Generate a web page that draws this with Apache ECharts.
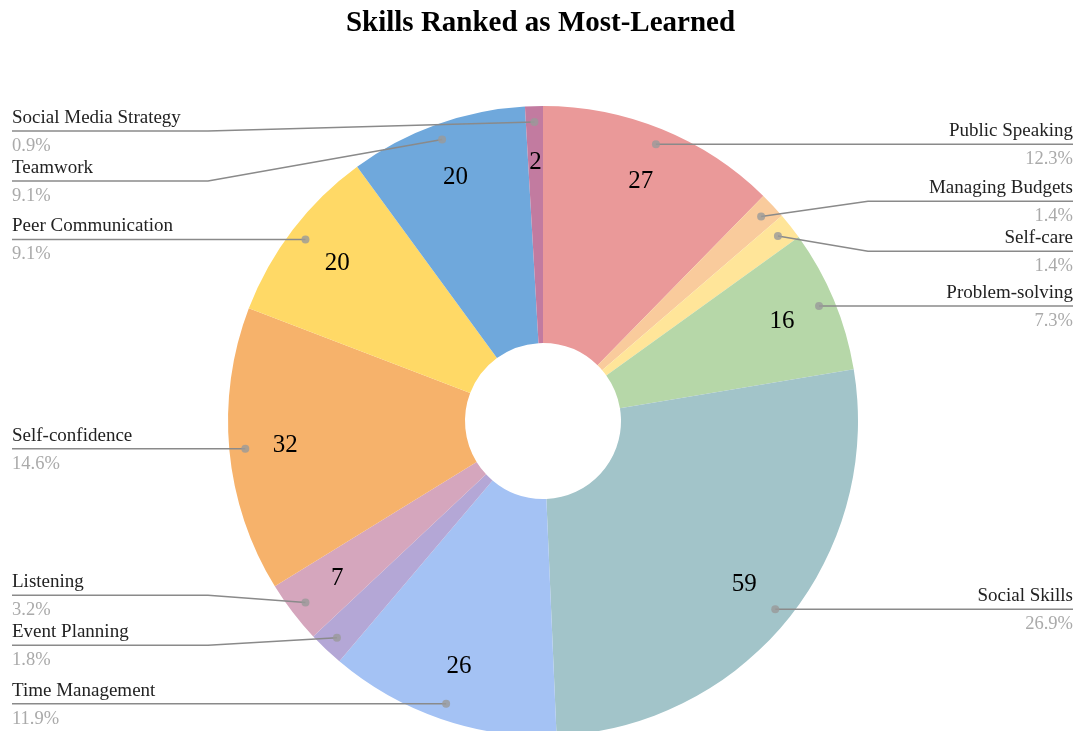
<!DOCTYPE html>
<html>
<head>
<meta charset="utf-8">
<script src="https://cdn.jsdelivr.net/npm/echarts@6/dist/echarts.min.js"></script>
<style>
  html, body { margin: 0; padding: 0; background: #fff; }
  #chart { width: 1081px; height: 731px; }
</style>
</head>
<body>
<div id="chart"></div>
<script>
// data
const categories = ['Public Speaking', 'Managing Budgets', 'Self-care', 'Problem-solving', 'Social Skills',
  'Time Management', 'Event Planning', 'Listening', 'Self-confidence', 'Peer Communication',
  'Teamwork', 'Social Media Strategy'];
const counts = [27, 3, 3, 16, 59, 26, 4, 7, 32, 20, 20, 2];
const colors = ['#ea9999', '#f9cb9c', '#ffe599', '#b6d7a8', '#a2c4c9', '#a4c2f4',
  '#b4a7d6', '#d5a6bd', '#f6b26b', '#ffd966', '#6fa8dc', '#c27ba0'];
// slices whose value is not printed inside
const hiddenValueLabels = ['Managing Budgets', 'Self-care', 'Event Planning'];

// layout (pixels)
const CX = 543, CY = 421, R = 315, R0 = 78;
const DOT_R = 299;
const EDGE_L = 12, EDGE_R = 1073;
const ELBOW_L = 208, ELBOW_R = 868;
const MIN_GAP = 50;
const FONT = '"Liberation Serif", "Times New Roman", serif';

const total = counts.reduce((a, b) => a + b, 0);

// anchor points of the label lines (midangle of each slice)
let acc = 0;
const anchors = counts.map((v, i) => {
  const midVal = acc + v / 2;
  acc += v;
  const a = midVal / total * Math.PI * 2;
  const x = CX + DOT_R * Math.sin(a);
  const y = CY - DOT_R * Math.cos(a);
  return { i: i, midVal: midVal, ax: x, ay: y, ly: y, right: x >= CX };
});

// push labels apart on each side
function spread(items, top) {
  items.sort((a, b) => a.ly - b.ly);
  for (let k = 0; k < 60; k++) {
    for (let j = 1; j < items.length; j++) {
      const d = items[j].ly - items[j - 1].ly;
      if (d < MIN_GAP) {
        const s = (MIN_GAP - d) / 2;
        items[j - 1].ly -= s;
        items[j].ly += s;
      }
    }
    items.forEach(it => { if (it.ly < top) it.ly = top; });
  }
}
spread(anchors.filter(a => a.right), CY - R + 25);
spread(anchors.filter(a => !a.right), CY - R + 25);

const pieData = categories.map((name, i) => ({ name: name, value: counts[i] }));

const myChart = echarts.init(document.getElementById('chart'));
myChart.setOption({
  animation: false,
  title: {
    text: 'Skills Ranked as Most-Learned',
    left: 'center',
    top: 4,
    textStyle: { fontFamily: FONT, fontSize: 29, fontWeight: 'bold', color: '#000' }
  },
  polar: { center: [CX, CY], radius: R },
  angleAxis: { type: 'value', min: 0, max: total, startAngle: 90, clockwise: true, show: false },
  radiusAxis: { type: 'value', min: 0, max: R, show: false },
  series: [
    {
      // slices
      type: 'pie',
      center: [CX, CY],
      radius: [R0, R],
      startAngle: 90,
      clockwise: true,
      silent: true,
      z: 2,
      data: categories.map((name, i) => ({ name: name, value: counts[i], itemStyle: { color: colors[i] } })),
      label: { show: false },
      labelLine: { show: false }
    },
    {
      // value labels inside the slices
      type: 'pie',
      center: [CX, CY],
      radius: [212, 300],
      startAngle: 90,
      clockwise: true,
      silent: true,
      z: 3,
      itemStyle: { color: 'rgba(0,0,0,0)' },
      data: categories.map((name, i) => ({
        name: name,
        value: counts[i],
        label: { show: hiddenValueLabels.indexOf(name) < 0 }
      })),
      label: {
        position: 'inside',
        formatter: '{c}',
        fontFamily: FONT,
        fontSize: 25,
        color: '#000'
      },
      labelLine: { show: false }
    },
    {
      // names + percentages at the chart edges
      type: 'pie',
      center: [CX, CY],
      radius: [R0, R],
      startAngle: 90,
      clockwise: true,
      avoidLabelOverlap: false,
      silent: true,
      z: 4,
      itemStyle: { color: 'rgba(0,0,0,0)' },
      data: pieData,
      label: {
        show: true,
        position: 'outside',
        fontFamily: FONT,
        formatter: p => '{n|' + p.name + '}\n{p|' + (p.value / total * 100).toFixed(1) + '%}',
        rich: {
          n: { fontFamily: FONT, fontSize: 19, color: '#222', lineHeight: 28 },
          p: { fontFamily: FONT, fontSize: 18.5, color: '#aaa', lineHeight: 28 }
        }
      },
      labelLine: { show: true, smooth: false, lineStyle: { color: '#8a8a8a', width: 1.5 } },
      labelLayout: function (params) {
        const a = anchors.find(o => o.i === params.dataIndex);
        const ex = a.right ? EDGE_R : EDGE_L;
        return {
          x: ex,
          y: a.ly + 1,
          align: a.right ? 'right' : 'left',
          verticalAlign: 'middle',
          labelLinePoints: [[a.ax, a.ay], [a.right ? ELBOW_R : ELBOW_L, a.ly], [ex, a.ly]]
        };
      }
    },
    {
      // dots where label lines start
      type: 'scatter',
      coordinateSystem: 'polar',
      symbol: 'circle',
      symbolSize: 8,
      silent: true,
      z: 5,
      itemStyle: { color: '#9a9a9a' },
      data: anchors.slice().sort((a, b) => a.i - b.i).map(a => [DOT_R, a.midVal])
    }
  ]
});
window.onresize = function () {
  myChart.resize();
};
</script>
</body>
</html>
